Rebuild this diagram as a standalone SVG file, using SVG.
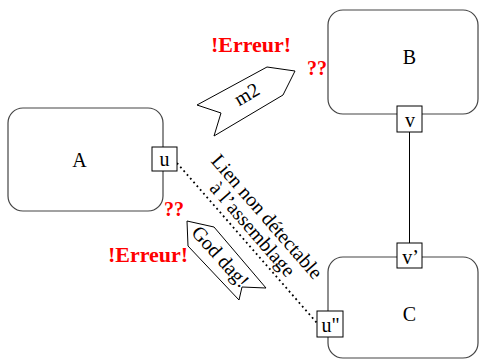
<svg xmlns="http://www.w3.org/2000/svg" width="481" height="361" viewBox="0 0 481 361">
<style>
.box{fill:#fff;stroke:#444;stroke-width:1.2}
.port{fill:#fff;stroke:#000;stroke-width:1}
.lbl{font-family:"Liberation Serif",serif;font-size:20px;fill:#000;text-anchor:middle}
.err{font-family:"Liberation Serif",serif;font-weight:bold;fill:#ff0000;text-anchor:middle}
.arr{fill:#fff;stroke:#000;stroke-width:1}
</style>
<rect width="481" height="361" fill="#fff"/>
<g id="connectors">
<line x1="409.5" y1="132" x2="409.5" y2="243" stroke="#000" stroke-width="1"/>
<line x1="177" y1="163" x2="317" y2="323" stroke="#000" stroke-width="1.8" stroke-dasharray="1.8 3.2"/>
</g>
<g id="A">
<rect class="box" x="8" y="108" width="155" height="103" rx="15"/>
<text class="lbl" x="79.5" y="166.5">A</text>
</g>
<g id="B">
<rect class="box" x="328" y="10" width="150" height="104" rx="15"/>
<text class="lbl" x="409.5" y="64">B</text>
</g>
<g id="C">
<rect class="box" x="328" y="257" width="150" height="101" rx="15"/>
<text class="lbl" x="409.5" y="321">C</text>
</g>
<g id="port-u">
<rect class="port" x="152" y="147" width="25" height="24"/>
<text class="lbl" x="164.5" y="165.5">u</text>
</g>
<g id="port-v">
<rect class="port" x="397" y="106" width="25" height="26"/>
<text class="lbl" x="410" y="126.5">v</text>
</g>
<g id="port-v2">
<rect class="port" x="397" y="243" width="25" height="25"/>
<text class="lbl" x="410.5" y="263.5">v’</text>
</g>
<g id="port-u2">
<rect class="port" x="317" y="311" width="26" height="26"/>
<text class="lbl" x="330.5" y="331.5">u"</text>
</g>
<g id="msg-m2">
<polygon class="arr" points="197,105 267,67 295,71 283,95 214,136 221,113"/>
<text class="lbl" transform="translate(250,100) rotate(-30)" x="0" y="0">m2</text>
</g>
<g id="msg-goddag">
<polygon class="arr" points="187,221 214,227 266,288 242,287 239,300 188,246"/>
<text class="lbl" transform="translate(215.5,261) rotate(48)" x="0" y="0">God dag!</text>
</g>
<g id="link-label">
<text class="lbl" transform="translate(262,221) rotate(49)"><tspan x="0" y="0">Lien non détectable</tspan><tspan x="0" y="19">à l’assemblage</tspan></text>
</g>
<g id="errors">
<text class="err" style="font-size:22px" x="251" y="52">!Erreur!</text>
<text class="err" style="font-size:20px" x="317" y="75">??</text>
<text class="err" style="font-size:22px" x="148" y="261.5">!Erreur!</text>
<text class="err" style="font-size:20px" x="174" y="216">??</text>
</g>
</svg>
